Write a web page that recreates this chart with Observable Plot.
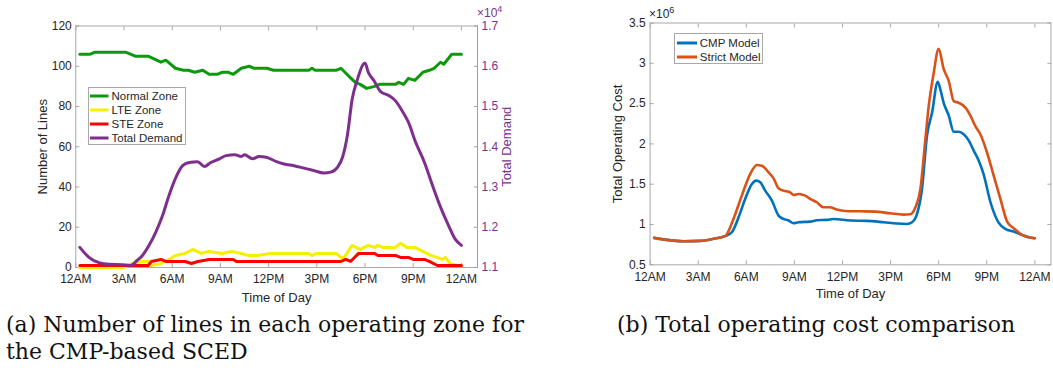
<!DOCTYPE html>
<html><head><meta charset="utf-8">
<script src="https://cdn.jsdelivr.net/npm/d3@7"></script>
<script src="https://cdn.jsdelivr.net/npm/@observablehq/plot@0.6"></script>
<style>
html,body{margin:0;padding:0;background:#fff;}
body{width:1053px;height:372px;position:relative;overflow:hidden;font-family:"Liberation Sans",Arial,sans-serif;}
.panel{position:absolute;top:0;}
.legend{position:absolute;background:#fff;border:1px solid #a8a8a8;box-sizing:border-box;font-size:11.5px;color:#262626;}
.legend .row{display:flex;align-items:center;white-space:nowrap;}
.legend svg{display:block;margin-right:3px;}
.caption{position:absolute;font-family:"DejaVu Serif",serif;font-size:22px;color:#111;line-height:27px;white-space:nowrap;}
.exp{position:absolute;font-size:12px;line-height:12px;white-space:nowrap;}
.exp sup{font-size:9px;vertical-align:5px;line-height:0;}
</style></head><body>
<div id="left" class="panel" style="left:0px"></div>
<div id="right" class="panel" style="left:530px"></div>
<script>
// ---------- data ----------
const timeTicks = [0, 3, 6, 9, 12, 15, 18, 21, 24];
const timeLabels = ["12AM","3AM","6AM","9AM","12PM","3PM","6PM","9PM","12AM"];
const linesTicks = [0, 20, 40, 60, 80, 100, 120];
const demandTicks = [1.1, 1.2, 1.3, 1.4, 1.5, 1.6, 1.7];   // x10^4
const costTicks = [0.5, 1, 1.5, 2, 2.5, 3, 3.5];           // x10^6

// Number of lines in Normal zone
const normalHours  = [0.25,0.9,1.2,3.1,3.7,4.5,5.3,5.6,6.2,6.7,7.0,7.4,7.9,8.3,8.8,9.1,9.5,9.8,10.3,10.8,11.1,11.9,12.3,14.5,14.7,14.9,16.2,16.5,17.0,17.4,17.7,18.1,18.6,18.9,19.9,20.1,20.4,20.7,21.1,21.6,22.0,22.3,22.7,22.9,23.2,23.4,24];
const normalValues = [106,106,107,107,105,105,102,103,99,98,98,97,98,96,96,97,97,96,99,100,99,99,98,98,99,98,98,99,95,92,91,89,90,91,91,92,91,94,93,97,98,99,102,101,104,106,106];
// LTE zone
const lteHours  = [0.25,3.0,3.5,4.1,4.5,4.7,5.3,5.8,6.2,6.8,7.3,7.8,8.3,9.1,9.7,10.3,10.7,11.3,12.1,14.5,14.7,15.0,16.2,16.5,16.7,17.2,17.7,18.2,18.6,18.8,19.1,19.9,20.2,20.6,21.1,21.6,22.1,22.5,22.8,23.0,23.3,23.7,24];
const lteValues = [0,0,2,3,3,1,2,4,6,7,9,7,8,7,8,7,6,6,7,7,6,7,7,5,5,11,9,11,10,11,10,10,12,10,10,8,6,5,4,5,2,1,1];
// STE zone
const steHours  = [0.25,4.5,4.7,5.3,5.6,6.8,7.2,7.6,8.3,9.8,10.0,16.5,16.8,17.1,17.6,18.6,18.8,19.9,20.2,20.7,21.0,21.7,22.0,22.5,24];
const steValues = [1,1,3,4,3,3,2,3,4,4,3,3,4,3,7,7,6,6,5,5,4,4,3,1,1];
// Total demand (x10^4)
const demandHours  = [0.25,0.8,1.44,2.06,2.9,3.4,3.83,4.15,4.56,4.98,5.4,5.8,6.23,6.65,7.06,7.58,8.0,8.4,8.94,9.35,9.9,10.3,10.5,11.0,11.4,11.85,12.5,12.96,13.58,14.2,14.8,15.45,15.86,16.28,16.6,16.9,17.2,17.5,18.0,18.2,18.56,18.97,19.5,19.9,20.3,20.7,21.15,21.7,22.2,22.7,23.2,23.6,24];
const demandValues = [1.150,1.126,1.112,1.108,1.107,1.105,1.118,1.130,1.155,1.188,1.229,1.279,1.324,1.353,1.361,1.363,1.351,1.361,1.370,1.378,1.380,1.376,1.380,1.370,1.376,1.374,1.363,1.357,1.353,1.347,1.341,1.335,1.337,1.349,1.374,1.428,1.518,1.564,1.608,1.585,1.564,1.537,1.527,1.514,1.490,1.461,1.411,1.361,1.304,1.250,1.204,1.171,1.155];

// Total operating cost (x10^6)
const strictHours  = [0.25,1.04,2.08,3.12,3.95,4.68,5.2,5.72,6.24,6.66,6.97,7.39,7.7,8.01,8.32,8.74,8.95,9.26,9.68,9.99,10.4,10.8,11.2,11.65,12.17,13.1,14.05,14.98,15.8,16.23,16.55,16.86,17.17,17.38,17.69,18.0,18.31,18.63,18.94,19.25,19.67,19.98,20.29,20.6,21.02,21.44,21.85,22.27,22.68,23.2,23.62,24];
const strictValues = [0.834,0.809,0.793,0.797,0.822,0.855,1.069,1.358,1.626,1.738,1.729,1.647,1.573,1.449,1.42,1.399,1.366,1.379,1.358,1.317,1.276,1.214,1.214,1.185,1.168,1.164,1.16,1.139,1.123,1.127,1.214,1.44,2.06,2.47,2.88,3.18,2.93,2.78,2.53,2.51,2.45,2.35,2.22,2.12,1.89,1.6,1.317,1.036,0.954,0.871,0.842,0.83];
const cmpHours  = [0.25,1.04,2.08,3.12,3.95,4.68,5.1,5.52,5.93,6.35,6.62,6.87,7.18,7.6,8.01,8.32,8.64,8.95,9.26,9.99,10.4,11.03,11.45,12.5,13.53,14.57,15.4,16.02,16.34,16.65,16.96,17.27,17.59,17.94,18.1,18.31,18.63,18.94,19.25,19.56,19.88,20.19,20.5,20.8,21.23,21.75,22.16,22.68,23.2,23.62,24];
const cmpValues = [0.834,0.809,0.793,0.797,0.822,0.855,0.904,1.09,1.317,1.502,1.544,1.523,1.42,1.296,1.11,1.069,1.049,1.016,1.028,1.036,1.053,1.057,1.069,1.049,1.045,1.028,1.012,1.007,1.028,1.131,1.44,2.1,2.39,2.77,2.68,2.51,2.35,2.15,2.15,2.12,2.04,1.915,1.79,1.626,1.276,1.02,0.946,0.913,0.871,0.842,0.83];

// ---------- styles ----------
const C = {green:"#0c9a0c", yellow:"#f5ef00", red:"#ff0000", purple:"#7e2f8e", purpleAxis:"#b48ebd",
           blue:"#0072bd", orange:"#d95319", box:"#a8a8a8", text:"#262626"};
const zip = (hs, vs) => hs.map((h, i) => ({h, v: vs[i]}));
const timeFmt = d => timeLabels[timeTicks.indexOf(d)];
const baseStyle = {fontFamily:"'Liberation Sans', Arial, sans-serif", fontSize:"12px", color:C.text, background:"transparent", overflow:"visible"};
const title = (s, o) => Plot.text([s], {textAnchor:"middle", lineAnchor:"middle", fontSize:13, fill:C.text, ...o});

// Left panel: demand drawn on the lines scale via the dual-axis mapping
const dMin = demandTicks[0], dMax = demandTicks[demandTicks.length-1];
const lMax = linesTicks[linesTicks.length-1];
const toLeft = d => (d - dMin) / (dMax - dMin) * lMax;

const left = Plot.plot({
  width: 530, height: 310, marginLeft: 75.3, marginRight: 53, marginTop: 25.5, marginBottom: 43,
  style: baseStyle,
  x: {domain: [0, 25]},
  y: {domain: [0, lMax]},
  marks: [
    Plot.frame({stroke: C.box}),
    Plot.axisX(timeTicks, {anchor:"bottom", tickSize:-4, fill:"none", stroke:C.box, label:null}),
    Plot.axisX(timeTicks, {anchor:"top", tickSize:-4, fill:"none", stroke:C.box, label:null}),
    Plot.axisX(timeTicks, {anchor:"bottom", tickSize:0, tickPadding:7, tickFormat:timeFmt, label:null, fill:C.text}),
    Plot.axisY(linesTicks, {anchor:"left", tickSize:-4, fill:"none", stroke:C.box, label:null}),
    Plot.axisY(linesTicks, {anchor:"left", tickSize:0, tickPadding:4, label:null, fill:C.text}),
    Plot.ruleX([25], {stroke: C.purpleAxis}),
    Plot.axisY(demandTicks.map(toLeft), {anchor:"right", tickSize:-4, fill:"none", stroke:C.purpleAxis, label:null}),
    Plot.axisY(demandTicks.map(toLeft), {anchor:"right", tickSize:0, tickPadding:4, label:null, fill:C.purple,
      tickFormat: v => (dMin + v / lMax * (dMax - dMin)).toFixed(1)}),
    title("Number of Lines", {frameAnchor:"left", dx:-33, rotate:-90}),
    title("Total Demand", {frameAnchor:"right", dx:29, rotate:-90, fill:C.purple}),
    title("Time of Day", {frameAnchor:"bottom", dy:30}),
    Plot.line(zip(normalHours, normalValues), {x:"h", y:"v", stroke:C.green, strokeWidth:3}),
    Plot.line(zip(lteHours, lteValues), {x:"h", y:"v", stroke:C.yellow, strokeWidth:3}),
    Plot.line(zip(steHours, steValues), {x:"h", y:"v", stroke:C.red, strokeWidth:3}),
    Plot.line(zip(demandHours, demandValues), {x:"h", y: d => toLeft(d.v), stroke:C.purple, strokeWidth:3, curve:"monotone-x"})
  ]
});
document.getElementById("left").append(left);

const right = Plot.plot({
  width: 523, height: 310, marginLeft: 119.6, marginRight: 2.6, marginTop: 22.5, marginBottom: 45.7,
  style: baseStyle,
  x: {domain: [0, 25]},
  y: {domain: [costTicks[0], costTicks[costTicks.length-1]]},
  marks: [
    Plot.frame({stroke: C.box}),
    Plot.axisX(timeTicks, {anchor:"bottom", tickSize:-4, fill:"none", stroke:C.box, label:null}),
    Plot.axisX(timeTicks, {anchor:"top", tickSize:-4, fill:"none", stroke:C.box, label:null}),
    Plot.axisX(timeTicks, {anchor:"bottom", tickSize:0, tickPadding:7.5, tickFormat:timeFmt, label:null, fill:C.text}),
    Plot.axisY(costTicks, {anchor:"left", tickSize:-4, fill:"none", stroke:C.box, label:null}),
    Plot.axisY(costTicks, {anchor:"right", tickSize:-4, fill:"none", stroke:C.box, label:null}),
    Plot.axisY(costTicks, {anchor:"left", tickSize:0, tickPadding:4.5, label:null, fill:C.text, tickFormat: d => String(d)}),
    title("Total Operating Cost", {frameAnchor:"left", dx:-32, rotate:-90}),
    title("Time of Day", {frameAnchor:"bottom", dy:29}),
    Plot.line(zip(cmpHours, cmpValues), {x:"h", y:"v", stroke:C.blue, strokeWidth:2.6, curve:"monotone-x"}),
    Plot.line(zip(strictHours, strictValues), {x:"h", y:"v", stroke:C.orange, strokeWidth:2.6, curve:"monotone-x"})
  ]
});
document.getElementById("right").append(right);

// ---------- legends ----------
function legend(items, box, rowH, padTop, lineLen) {
  const div = document.createElement("div");
  div.className = "legend";
  Object.assign(div.style, {left: box[0]+"px", top: box[1]+"px", width: box[2]+"px", height: box[3]+"px", paddingTop: padTop+"px", paddingLeft: "1.5px"});
  for (const [name, color] of items) {
    const row = document.createElement("div");
    row.className = "row"; row.style.height = rowH + "px";
    row.innerHTML = `<svg width="${lineLen}" height="6"><line x1="0" x2="${lineLen}" y1="3" y2="3" stroke="${color}" stroke-width="3"/></svg><span>${name}</span>`;
    div.append(row);
  }
  document.body.append(div);
}
legend([["Normal Zone", C.green], ["LTE Zone", C.yellow], ["STE Zone", C.red], ["Total Demand", C.purple]],
       [87.5, 86.5, 98.5, 58.5], 14.1, 1.2, 18.5);
legend([["CMP Model", C.blue], ["Strict Model", C.orange]],
       [674.3, 33.3, 89, 31], 14.4, 1.5, 20);

// ---------- exponent labels & captions ----------
function addDiv(cls, html, style) {
  const d = document.createElement("div"); d.className = cls; d.innerHTML = html;
  Object.assign(d.style, style); document.body.append(d);
}
addDiv("exp", "×10<sup>4</sup>", {left:"477px", top:"7px", color:C.purple});
addDiv("exp", "×10<sup>6</sup>", {left:"649px", top:"8px", color:C.text});
addDiv("caption", "(a) Number of lines in each operating zone for<br>the CMP-based SCED", {left:"6px", top:"311px"});
addDiv("caption", "(b) Total operating cost comparison", {left:"617px", top:"311px"});
</script>
</body></html>
